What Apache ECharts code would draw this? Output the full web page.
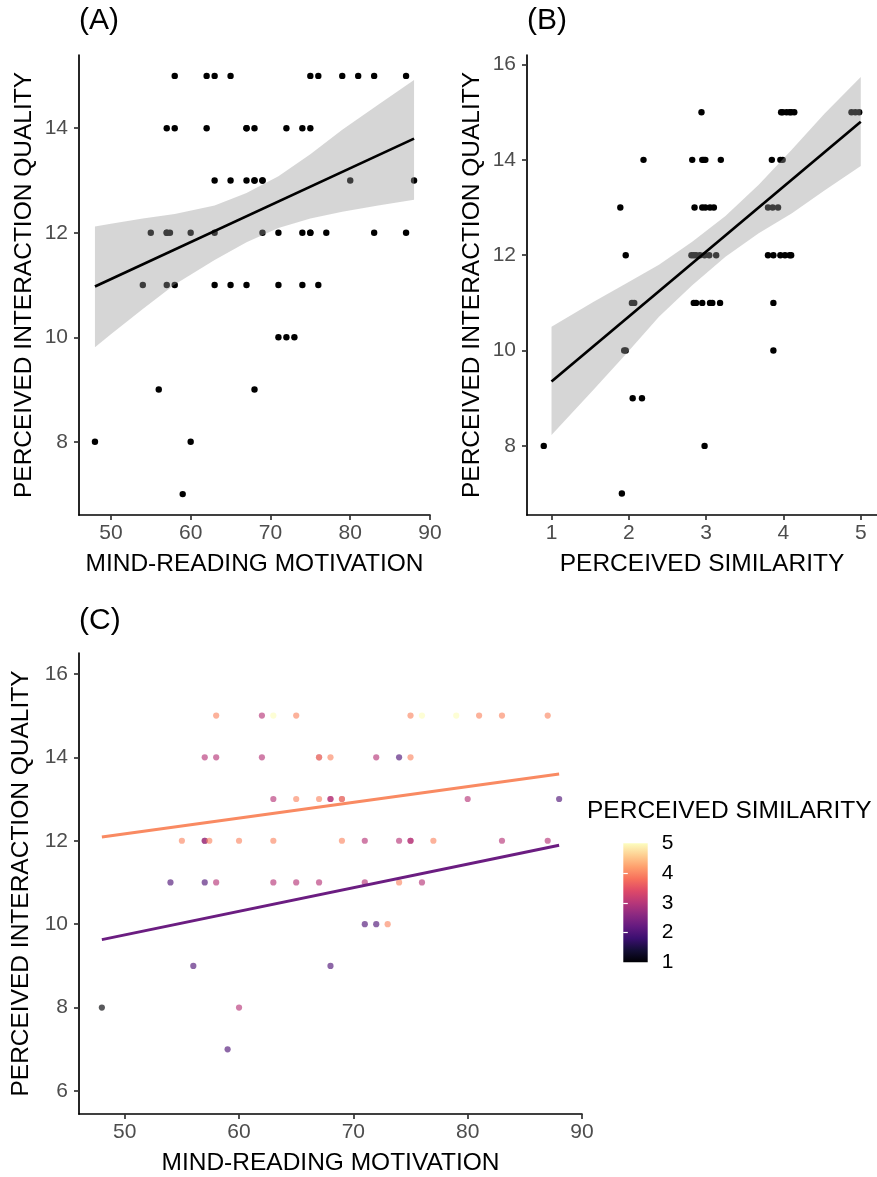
<!DOCTYPE html>
<html>
<head>
<meta charset="utf-8">
<script src="https://cdn.jsdelivr.net/npm/echarts@6/dist/echarts.min.js"></script>
<style>
html,body{margin:0;padding:0;background:#ffffff;}
#chart{width:877px;height:1177px;}
</style>
</head>
<body>
<div id="chart"></div>
<script>
// ---------------- DATA ----------------
// one entry per participant
const motivation = [
  58, 62, 63, 65, 75, 76, 79, 81, 83, 87,            // quality 15
  57, 58, 62, 67, 67, 68, 72, 74, 75,                // quality 14
  63, 65, 67, 68, 68, 69, 69, 80, 88,                // quality 13
  55, 57, 57, 57.4, 60, 63, 69, 71, 74, 75, 75, 77, 83, 87, // quality 12
  54, 57, 58, 63, 65, 67, 71, 74, 76,                // quality 11
  71, 72, 73,                                        // quality 10
  56, 68,                                            // quality 9
  48, 60,                                            // quality 8
  59                                                 // quality 7
];
const similarity = [
  4, 3, 5, 4, 4, 5, 5, 4, 4, 4,
  3, 3, 3, 3, 4, 4, 3, 2, 4,
  3, 4, 4, 3, 3, 3, 4, 3, 2,
  4, 2, 3, 4, 4, 4, 4, 3, 3, 3, 3, 4, 3, 3,
  2, 2, 3, 3, 3, 3, 3, 4, 3,
  2, 2, 4,
  2, 2,
  1, 3,
  2
];
// horizontal position of each point in panel (B) (jittered similarity)
const similarityJitter = [
  3.99, 2.94, 4.93, 4.04, 4.10, 4.88, 4.98, 4.14, 3.97, 4.08,
  2.82, 2.95, 2.99, 2.97, 3.85, 3.96, 3.19, 2.19, 3.99,
  2.85, 3.80, 3.86, 2.95, 3.10, 2.99, 3.93, 3.05, 1.89,
  3.80, 1.96, 2.84, 3.87, 3.96, 4.08, 4.02, 2.81, 2.92, 2.98, 3.04, 4.10, 3.13, 2.87,
  2.07, 2.04, 2.84, 2.87, 3.05, 3.08, 3.18, 3.87, 2.95,
  1.94, 1.96, 3.87,
  2.05, 2.17,
  0.90, 2.98,
  1.91
];
const quality = [
  15, 15, 15, 15, 15, 15, 15, 15, 15, 15,
  14, 14, 14, 14, 14, 14, 14, 14, 14,
  13, 13, 13, 13, 13, 13, 13, 13, 13,
  12, 12, 12, 12, 12, 12, 12, 12, 12, 12, 12, 12, 12, 12,
  11, 11, 11, 11, 11, 11, 11, 11, 11,
  10, 10, 10,
  9, 9,
  8, 8,
  7
];

// panel (A) fitted line and confidence band
const fitAX = [48, 88];
const fitAY = [10.97, 13.80];
const bandAX     = [48,    50,    54,    58,    63,    67,    71,    75,    79,    83.5,  88];
const bandAUpper = [12.12, 12.17, 12.27, 12.36, 12.52, 12.76, 13.08, 13.50, 13.97, 14.45, 14.92];
const bandALower = [9.81,  10.06, 10.54, 11.01, 11.48, 11.82, 12.09, 12.27, 12.40, 12.52, 12.63];

// panel (B) fitted line and confidence band
const fitBX = [1, 5];
const fitBY = [9.35, 14.80];
const bandBX     = [1,     1.54,  1.97,  2.39,  2.82,  3.25,  3.68,  4.11,  4.53,  5];
const bandBUpper = [10.50, 11.02, 11.41, 11.80, 12.28, 12.82, 13.48, 14.22, 14.97, 15.74];
const bandBLower = [8.23,  9.17,  9.94,  10.71, 11.37, 11.97, 12.46, 12.88, 13.36, 13.87];

// panel (C) simple slopes (high / low similarity)
const slopeX = [48, 88];
const slopeHighY = [12.09, 13.60];
const slopeLowY = [9.63, 11.89];

// tick labels
const ticksMotivation = [50, 60, 70, 80, 90];
const ticksQualityAB = [8, 10, 12, 14];
const ticksQualityB = [8, 10, 12, 14, 16];
const ticksQualityC = [6, 8, 10, 12, 14, 16];
const ticksSimilarity = [1, 2, 3, 4, 5];

// texts
const yTitle = 'PERCEIVED INTERACTION QUALITY';
const xTitleMot = 'MIND-READING MOTIVATION';
const xTitleSim = 'PERCEIVED SIMILARITY';
const legendTitle = 'PERCEIVED SIMILARITY';

// ---------------- STYLE ----------------
const FONT = '"Liberation Sans", Arial, Helvetica, sans-serif';
const magma = ['#000004', '#140E36', '#3B0F70', '#641A80', '#8C2981', '#B73779',
               '#DE4968', '#F7705C', '#FE9F6D', '#FECF92', '#FCFDBF'];
const bandFill = 'rgba(153,153,153,0.4)';

function xAxisCfg(gridIndex, min, max, ticks, name) {
  return {
    type: 'value', gridIndex, min, max,
    name, nameLocation: 'middle', nameGap: 37,
    nameTextStyle: {fontFamily: FONT, fontSize: 24.5, color: '#000'},
    axisLine: {show: true, onZero: false, lineStyle: {color: '#000', width: 1.7}},
    axisTick: {show: true, length: 5, customValues: ticks, lineStyle: {color: '#333', width: 1.7}},
    axisLabel: {show: true, customValues: ticks, margin: 8, fontFamily: FONT, fontSize: 21, color: '#4D4D4D'},
    splitLine: {show: false}
  };
}
function yAxisCfg(gridIndex, min, max, ticks, name) {
  return {
    type: 'value', gridIndex, min, max,
    name, nameLocation: 'middle', nameGap: 42, nameRotate: 90,
    nameTextStyle: {fontFamily: FONT, fontSize: 24.5, color: '#000'},
    axisLine: {show: true, onZero: false, lineStyle: {color: '#000', width: 1.7}},
    axisTick: {show: true, length: 5, customValues: ticks, lineStyle: {color: '#333', width: 1.7}},
    axisLabel: {show: true, customValues: ticks, margin: 11, fontFamily: FONT, fontSize: 21, color: '#4D4D4D'},
    splitLine: {show: false}
  };
}
function bandSeries(xi, yi, bx, up, lo) {
  return {
    type: 'custom', xAxisIndex: xi, yAxisIndex: yi, z: 3, silent: true,
    data: [[bx[0], lo[0]]],
    renderItem: function (params, api) {
      const pts = [];
      for (let i = 0; i < bx.length; i++) pts.push(api.coord([bx[i], up[i]]));
      for (let i = bx.length - 1; i >= 0; i--) pts.push(api.coord([bx[i], lo[i]]));
      return {type: 'polygon', shape: {points: pts}, style: {fill: bandFill}};
    }
  };
}
function lineSeries(xi, yi, xs, ys, color, width) {
  return {
    type: 'line', xAxisIndex: xi, yAxisIndex: yi, z: 4, silent: true,
    data: xs.map((x, i) => [x, ys[i]]),
    showSymbol: false, symbol: 'none',
    lineStyle: {color, width}
  };
}

const ptsA = motivation.map((m, i) => [m, quality[i]]);
const ptsB = similarityJitter.map((s, i) => [s, quality[i]]);
const ptsC = motivation.map((m, i) => [m, quality[i], similarity[i]]);

const chart = echarts.init(document.getElementById('chart'), null, {renderer: 'canvas'});
chart.setOption({
  animation: false,
  backgroundColor: '#ffffff',
  textStyle: {fontFamily: FONT},
  grid: [
    {left: 79, top: 55, width: 351, height: 460},
    {left: 527, top: 55, width: 352, height: 460},
    {left: 79, top: 653, width: 503, height: 461},
    {left: 623.3, top: 843.3, width: 24.4, height: 119}
  ],
  xAxis: [
    xAxisCfg(0, 46, 90, ticksMotivation, xTitleMot),
    xAxisCfg(1, 0.683, 5.21, ticksSimilarity, xTitleSim),
    xAxisCfg(2, 46, 90, ticksMotivation, xTitleMot),
    {type: 'value', gridIndex: 3, min: 0, max: 1, show: false}
  ],
  yAxis: [
    yAxisCfg(0, 6.6, 15.4, ticksQualityAB, yTitle),
    yAxisCfg(1, 6.55, 16.2, ticksQualityB, yTitle),
    yAxisCfg(2, 5.45, 16.5, ticksQualityC, yTitle),
    {
      type: 'value', gridIndex: 3, min: 1, max: 5, position: 'right', z: 10,
      axisLine: {show: false},
      axisTick: {show: true, inside: true, length: 4.5, customValues: [2, 3, 4], lineStyle: {color: '#fff', width: 1.2}},
      axisLabel: {show: true, customValues: ticksSimilarity, margin: 14, fontFamily: FONT, fontSize: 21, color: '#000'},
      splitLine: {show: false}
    },
    {
      type: 'value', gridIndex: 3, min: 1, max: 5, position: 'left', z: 10,
      axisLine: {show: false},
      axisTick: {show: true, inside: true, length: 4.5, customValues: [2, 3, 4], lineStyle: {color: '#fff', width: 1.2}},
      axisLabel: {show: false},
      splitLine: {show: false}
    }
  ],
  visualMap: [{
    type: 'continuous', show: false, seriesIndex: 6, dimension: 2,
    min: 1, max: 5, inRange: {color: magma}
  }],
  series: [
    {type: 'scatter', xAxisIndex: 0, yAxisIndex: 0, z: 2, silent: true,
     data: ptsA, symbolSize: 6.4, itemStyle: {color: '#000', opacity: 1}},
    bandSeries(0, 0, bandAX, bandAUpper, bandALower),
    lineSeries(0, 0, fitAX, fitAY, '#000', 2.7),

    {type: 'scatter', xAxisIndex: 1, yAxisIndex: 1, z: 2, silent: true,
     data: ptsB, symbolSize: 6.4, itemStyle: {color: '#000', opacity: 1}},
    bandSeries(1, 1, bandBX, bandBUpper, bandBLower),
    lineSeries(1, 1, fitBX, fitBY, '#000', 2.7),

    {type: 'scatter', xAxisIndex: 2, yAxisIndex: 2, z: 2, silent: true,
     data: ptsC, symbolSize: 6.2, itemStyle: {opacity: 0.65}},
    lineSeries(2, 2, slopeX, slopeHighY, '#F98A62', 3),
    lineSeries(2, 2, slopeX, slopeLowY, '#6B1D81', 3),

    {
      type: 'custom', xAxisIndex: 3, yAxisIndex: 3, z: 2, silent: true,
      data: [[0, 1]],
      renderItem: function (params, api) {
        const p0 = api.coord([0, 5]);
        const p1 = api.coord([1, 1]);
        return {
          type: 'rect',
          shape: {x: p0[0], y: p0[1], width: p1[0] - p0[0], height: p1[1] - p0[1]},
          style: {fill: new echarts.graphic.LinearGradient(0, 1, 0, 0,
            magma.map((c, i) => ({offset: i / (magma.length - 1), color: c})))}
        };
      }
    }
  ],
  graphic: [
    {type: 'text', left: 79, top: 6, style: {text: '(A)', font: '30px ' + FONT, fill: '#000'}},
    {type: 'text', left: 527, top: 6, style: {text: '(B)', font: '30px ' + FONT, fill: '#000'}},
    {type: 'text', left: 79, top: 606, style: {text: '(C)', font: '30px ' + FONT, fill: '#000'}},
    {type: 'text', left: 587, top: 799, style: {text: legendTitle, font: '24.5px ' + FONT, fill: '#000'}}
  ]
});
</script>
</body>
</html>
